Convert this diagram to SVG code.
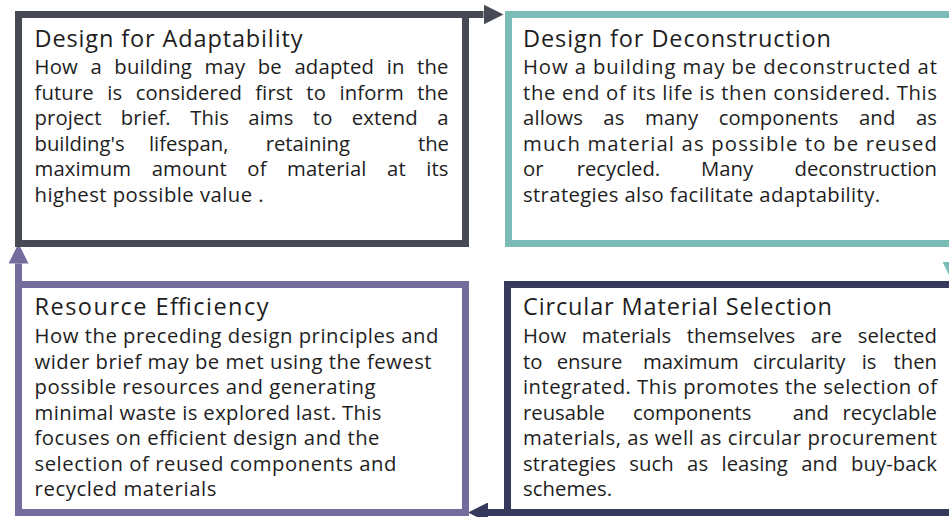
<svg xmlns="http://www.w3.org/2000/svg" width="949" height="517" viewBox="0 0 949 517">
<style>
  .box { fill: #ffffff; stroke-width: 7; }
  .t { font-family: "Open Sans", "Liberation Sans", sans-serif; font-size: 23.5px; fill: #1e1e1e; }
  .b { font-family: "Open Sans", "Liberation Sans", sans-serif; font-size: 20.3px; fill: #1e1e1e; }
  .c { fill: none; stroke-width: 7; }
</style>
<defs>
  <marker id="ah-gray" markerUnits="userSpaceOnUse" viewBox="0 0 20 20" refX="0" refY="10" markerWidth="20" markerHeight="20" orient="auto"><path d="M0,0 L20,10 L0,20 z" fill="#474a55"/></marker>
  <marker id="ah-teal" markerUnits="userSpaceOnUse" viewBox="0 0 20 20" refX="0" refY="10" markerWidth="20" markerHeight="20" orient="auto"><path d="M0,0 L20,10 L0,20 z" fill="#7bbcb7"/></marker>
  <marker id="ah-navy" markerUnits="userSpaceOnUse" viewBox="0 0 20 20" refX="0" refY="10" markerWidth="20" markerHeight="20" orient="auto"><path d="M0,0 L20,10 L0,20 z" fill="#363b5d"/></marker>
  <marker id="ah-purple" markerUnits="userSpaceOnUse" viewBox="0 0 20 20" refX="0" refY="10" markerWidth="20" markerHeight="20" orient="auto"><path d="M0,0 L20,10 L0,20 z" fill="#746c9c"/></marker>
</defs>
<rect width="949" height="517" fill="#ffffff"/>

<g id="connectors">
  <path class="c" stroke="#474a55" d="M465 14.5 H483.5" marker-end="url(#ah-gray)"/>
  <path class="c" stroke="#7bbcb7" d="M952.5 246 V262" marker-end="url(#ah-teal)"/>
  <path class="c" stroke="#363b5d" d="M508 512.5 H488" marker-end="url(#ah-navy)"/>
  <path class="c" stroke="#746c9c" d="M18.5 285 V263.5" marker-end="url(#ah-purple)"/>
</g>

<g id="adaptability">
  <rect class="box" stroke="#474a55" x="18.5" y="14.5" width="447" height="229"/>
  <text class="t" x="34.5" y="47" textLength="268" lengthAdjust="spacing">Design for Adaptability</text>
  <text class="b" x="34.5" y="74" textLength="414" lengthAdjust="spacing" style="word-spacing:7px">How a building may be adapted in the</text>
  <text class="b" x="34.5" y="99.5" textLength="414" lengthAdjust="spacing" style="word-spacing:8px">future is considered first to inform the</text>
  <text class="b" x="34.5" y="125" textLength="414" lengthAdjust="spacing" style="word-spacing:14px">project brief. This aims to extend a</text>
  <text class="b" y="150.5"><tspan x="34.5">building's</tspan><tspan x="149">lifespan,</tspan><tspan x="265.7">retaining</tspan><tspan x="449" text-anchor="end">the</tspan></text>
  <text class="b" x="34.5" y="176" textLength="414" lengthAdjust="spacing" style="word-spacing:15px">maximum amount of material at its</text>
  <text class="b" x="34.5" y="201.5" textLength="229" lengthAdjust="spacing">highest possible value .</text>
</g>

<g id="deconstruction">
  <rect class="box" stroke="#7bbcb7" x="508.5" y="14.5" width="444" height="229"/>
  <text class="t" x="523" y="47" textLength="308" lengthAdjust="spacing">Design for Deconstruction</text>
  <text class="b" x="523" y="74" textLength="414" lengthAdjust="spacing">How a building may be deconstructed at</text>
  <text class="b" x="523" y="99.5" textLength="414" lengthAdjust="spacing">the end of its life is then considered. This</text>
  <text class="b" x="523" y="125" textLength="414" lengthAdjust="spacing" style="word-spacing:15px">allows as many components and as</text>
  <text class="b" x="523" y="150.5" textLength="414" lengthAdjust="spacing">much material as possible to be reused</text>
  <text class="b" y="176"><tspan x="523">or</tspan><tspan x="576.7">recycled.</tspan><tspan x="701">Many</tspan><tspan x="937" text-anchor="end">deconstruction</tspan></text>
  <text class="b" x="523" y="201.5" textLength="357" lengthAdjust="spacing">strategies also facilitate adaptability.</text>
</g>

<g id="circular-material-selection">
  <rect class="box" stroke="#363b5d" x="507.5" y="284.5" width="445" height="228"/>
  <text class="t" x="523" y="315" textLength="309" lengthAdjust="spacing">Circular Material Selection</text>
  <text class="b" x="523" y="343" textLength="414" lengthAdjust="spacing" style="word-spacing:10px">How materials themselves are selected</text>
  <text class="b" y="368.5"><tspan x="523">to</tspan><tspan x="556.7">ensure</tspan><tspan x="643">maximum</tspan><tspan x="753">circularity</tspan><tspan x="861.7">is</tspan><tspan x="937" text-anchor="end">then</tspan></text>
  <text class="b" x="523" y="394" textLength="414" lengthAdjust="spacing">integrated. This promotes the selection of</text>
  <text class="b" y="419.5"><tspan x="523">reusable</tspan><tspan x="633">components</tspan><tspan x="792.7">and</tspan><tspan x="937" text-anchor="end">recyclable</tspan></text>
  <text class="b" x="523" y="445" textLength="414" lengthAdjust="spacing">materials, as well as circular procurement</text>
  <text class="b" x="523" y="470.5" textLength="414" lengthAdjust="spacing" style="word-spacing:8px">strategies such as leasing and buy-back</text>
  <text class="b" x="523" y="496" textLength="89" lengthAdjust="spacing">schemes.</text>
</g>

<g id="resource-efficiency">
  <rect class="box" stroke="#746c9c" x="18.5" y="284.5" width="447" height="228"/>
  <text class="t" x="34.5" y="315" textLength="234" lengthAdjust="spacing">Resource Efficiency</text>
  <text class="b" x="34.5" y="343" textLength="404" lengthAdjust="spacing">How the preceding design principles and</text>
  <text class="b" x="34.5" y="368.5" textLength="397" lengthAdjust="spacing">wider brief may be met using the fewest</text>
  <text class="b" x="34.5" y="394" textLength="341" lengthAdjust="spacing">possible resources and generating</text>
  <text class="b" x="34.5" y="419.5" textLength="347" lengthAdjust="spacing">minimal waste is explored last. This</text>
  <text class="b" x="34.5" y="445" textLength="345" lengthAdjust="spacing">focuses on efficient design and the</text>
  <text class="b" x="34.5" y="470.5" textLength="362" lengthAdjust="spacing">selection of reused components and</text>
  <text class="b" x="34.5" y="496" textLength="182" lengthAdjust="spacing">recycled materials</text>
</g>
</svg>
